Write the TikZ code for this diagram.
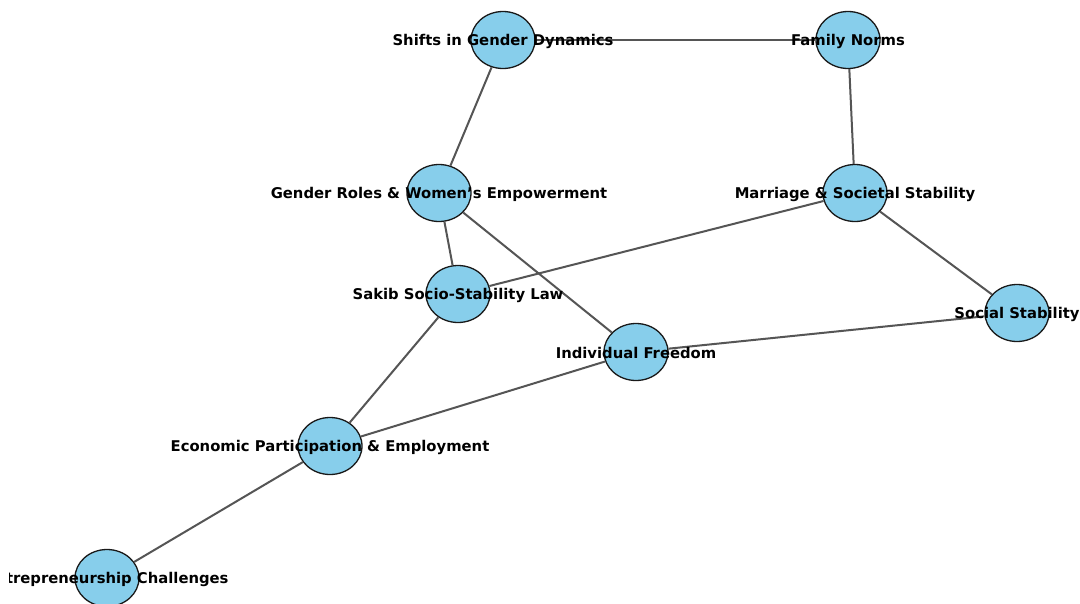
\documentclass[tikz,border=0pt]{standalone}
\usepackage{fontspec}
\setmainfont{DejaVu Sans}
\usetikzlibrary{shapes.geometric}
\definecolor{skyb}{HTML}{87CEEB}
\definecolor{edgegray}{HTML}{555555}
\tikzset{
  vertex/.style={ellipse, draw=black!90, line width=1.3pt, fill=skyb, minimum width=64pt, minimum height=57pt, inner sep=0pt},
  conn/.style={draw=edgegray, line width=2pt},
  lbl/.style={font=\bfseries\fontsize{14.8}{16}\selectfont, inner sep=0pt, text=black, yshift=-1pt}
}
\begin{document}
\begin{tikzpicture}[x=1pt,y=-1pt]
\useasboundingbox (0,0) rectangle (1080,603);
\fill[white] (0,0) rectangle (1080,603);
\clip (9,0) rectangle (1080,603);
\node[vertex] (shifts) at (503,40) {};
\node[vertex] (family) at (848,40) {};
\node[vertex] (gender) at (439,193) {};
\node[vertex] (marriage) at (855,193) {};
\node[vertex] (sakib) at (458,294) {};
\node[vertex] (social) at (1017,313) {};
\node[vertex] (indiv) at (636,352) {};
\node[vertex] (econ) at (330,446) {};
\node[vertex] (entre) at (107,578) {};
\draw[conn] (shifts) -- (family);
\draw[conn] (shifts) -- (gender);
\draw[conn] (family) -- (marriage);
\draw[conn] (gender) -- (sakib);
\draw[conn] (gender) -- (indiv);
\draw[conn] (marriage) -- (sakib);
\draw[conn] (marriage) -- (social);
\draw[conn] (social) -- (indiv);
\draw[conn] (indiv) -- (econ);
\draw[conn] (sakib) -- (econ);
\draw[conn] (econ) -- (entre);
\node[lbl] (tshifts) at (shifts) {Shifts in Gender Dynamics};
\node[lbl] (tfamily) at (family) {Family Norms};
\node[lbl] (tgender) at (gender) {Gender Roles \& Women\char39 s Empowerment};
\node[lbl] (tmarriage) at (marriage) {Marriage \& Societal Stability};
\node[lbl] (tsakib) at (sakib) {Sakib Socio-Stability Law};
\node[lbl] (tsocial) at (social) {Social Stability};
\node[lbl] (tindiv) at (indiv) {Individual Freedom};
\node[lbl] (tecon) at (econ) {Economic Participation \& Employment};
\node[lbl] (tentre) at (entre) {Entrepreneurship Challenges};
\end{tikzpicture}
\end{document}
